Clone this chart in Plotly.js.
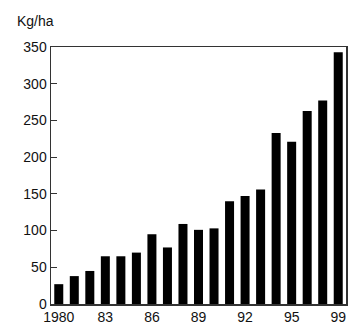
<!DOCTYPE html>
<html>
<head>
<meta charset="utf-8">
<script src="https://cdn.plot.ly/plotly-3.0.1.min.js"></script>
<style>html,body{margin:0;padding:0;background:#fff;}#chart{width:349px;height:322px;}</style>
</head>
<body>
<div id="chart"></div>
<script>
// 19 bars, labelled every third bar
const years = ['1980','1981','1982','1983','1984','1985','1986','1987','1988','1989','1990','1991','1992','1993','1994','1995','1997','1998','1999'];
const values = [27, 38, 45, 65, 65, 70, 95, 77, 109, 101, 103, 140, 147, 156, 233, 221, 263, 277, 343];
const tickYears = ['1980','1983','1986','1989','1992','1995','1999'];
const tickLabels = ['1980','83','86','89','92','95','99'];
const unitLabel = 'Kg/ha';

const font = {family: 'Liberation Sans, Arial, sans-serif', size: 14, color: '#111'};

Plotly.newPlot('chart', [{
  type: 'bar',
  x: years,
  y: values,
  marker: {color: '#000', line: {width: 0}},
  hoverinfo: 'x+y'
}], {
  width: 349, height: 322,
  margin: {l: 51, r: 3, t: 47, b: 18, pad: 0},
  paper_bgcolor: '#fff', plot_bgcolor: '#fff',
  bargap: 0.42,
  showlegend: false,
  font: font,
  xaxis: {
    type: 'category',
    tickmode: 'array', tickvals: tickYears, ticktext: tickLabels,
    showline: true, linecolor: '#333', linewidth: 1.5, mirror: true,
    ticks: '', showgrid: false, zeroline: false,
    tickfont: font, fixedrange: true
  },
  yaxis: {
    range: [0, 350], tickmode: 'linear', tick0: 0, dtick: 50,
    ticks: 'inside', ticklen: 6, tickwidth: 1, tickcolor: '#333',
    showline: true, linecolor: '#333', linewidth: 1.5, mirror: true,
    showgrid: false, zeroline: false,
    tickfont: font, fixedrange: true
  },
  annotations: [{
    text: unitLabel, xref: 'paper', yref: 'paper',
    x: -0.122, y: 1.102, xanchor: 'left', yanchor: 'middle',
    showarrow: false, font: font
  }]
}, {displayModeBar: false, staticPlot: true});
</script>
</body>
</html>
